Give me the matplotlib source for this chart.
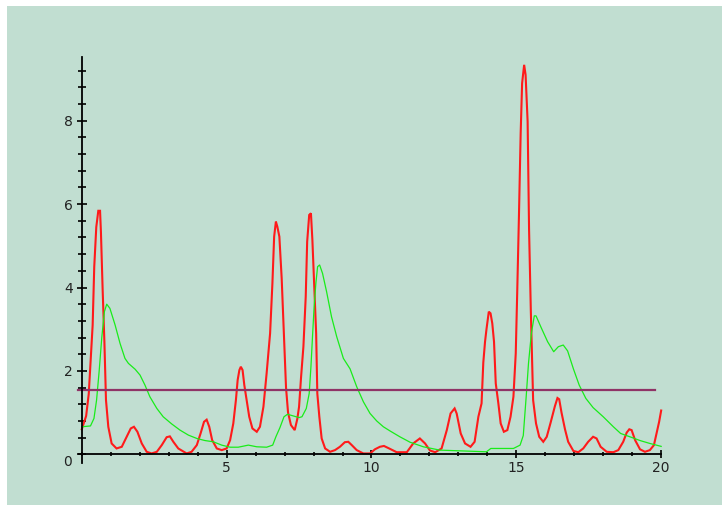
import matplotlib
matplotlib.use("Agg")
import matplotlib.pyplot as plt
import numpy as np

# red response curve, read point by point
red_x = [0.0, 0.15, 0.24, 0.30, 0.375, 0.43, 0.50, 0.57, 0.63, 0.66, 0.72, 0.78, 0.835, 0.915,
         1.03, 1.2, 1.38, 1.55, 1.69, 1.8, 1.92, 2.07, 2.24, 2.41, 2.59, 2.76, 2.93, 3.04,
         3.16, 3.33, 3.62, 3.79, 3.97, 4.1, 4.22, 4.31, 4.4, 4.5, 4.66, 4.83, 5.0, 5.12,
         5.23, 5.32, 5.38, 5.44, 5.49, 5.55, 5.61, 5.69, 5.78, 5.89, 6.04, 6.15, 6.27, 6.38,
         6.5, 6.58, 6.64, 6.70, 6.75, 6.82, 6.9, 7.0, 7.05, 7.12, 7.22, 7.35, 7.44, 7.5,
         7.57, 7.65, 7.73, 7.78, 7.85, 7.91, 7.96, 8.02, 8.09, 8.13, 8.2, 8.28, 8.4, 8.57,
         8.74, 8.91, 9.08, 9.2, 9.32, 9.49, 9.72, 9.95, 10.12, 10.29, 10.43, 10.61, 10.87,
         11.22, 11.44, 11.67, 11.85, 12.02, 12.2, 12.42, 12.6, 12.73, 12.87, 12.94, 13.08,
         13.23, 13.42, 13.56, 13.69, 13.8, 13.86, 13.92, 13.97, 14.05, 14.11, 14.17, 14.23,
         14.29, 14.38, 14.46, 14.57, 14.69, 14.8, 14.9, 14.98, 15.03, 15.09, 15.15, 15.2,
         15.27, 15.32, 15.39, 15.44, 15.5, 15.58, 15.68, 15.79, 15.93, 16.05, 16.18, 16.33,
         16.42, 16.48, 16.56, 16.68, 16.79, 16.97, 17.14, 17.31, 17.48, 17.65, 17.77, 17.91,
         18.12, 18.35, 18.52, 18.69, 18.81, 18.9, 18.98, 19.1, 19.27, 19.44, 19.61, 19.75,
         19.84, 19.93, 20.0]
red_y = [0.60, 0.92, 1.45, 2.2, 3.1, 4.5, 5.45, 5.84, 5.84, 5.34, 3.94, 2.7, 1.3, 0.66,
         0.26, 0.14, 0.18, 0.42, 0.62, 0.66, 0.54, 0.26, 0.06, 0.02, 0.06, 0.22, 0.41, 0.43,
         0.3, 0.14, 0.02, 0.06, 0.22, 0.5, 0.78, 0.83, 0.66, 0.34, 0.14, 0.1, 0.14, 0.34,
         0.74, 1.3, 1.78, 2.02, 2.1, 2.02, 1.66, 1.3, 0.9, 0.62, 0.54, 0.66, 1.14, 1.94,
         2.9, 4.1, 5.22, 5.58, 5.46, 5.22, 4.22, 2.5, 1.6, 1.0, 0.7, 0.58, 0.85, 1.14,
         1.86, 2.58, 3.78, 5.1, 5.74, 5.78, 5.14, 4.1, 2.9, 1.46, 0.9, 0.38, 0.14, 0.06,
         0.1, 0.18, 0.29, 0.3, 0.22, 0.1, 0.02, 0.02, 0.12, 0.18, 0.2, 0.14, 0.05,
         0.05, 0.26, 0.38, 0.26, 0.09, 0.05, 0.14, 0.58, 0.98, 1.1, 0.98, 0.5,
         0.26, 0.18, 0.3, 0.9, 1.22, 2.2, 2.7, 3.0, 3.42, 3.38, 3.14, 2.7,
         1.7, 1.22, 0.74, 0.54, 0.58, 0.9, 1.38, 2.42, 3.86, 5.7, 7.7, 8.9,
         9.34, 9.1, 7.98, 5.38, 3.46, 1.3, 0.74, 0.42, 0.3, 0.42, 0.75, 1.15,
         1.35, 1.32, 1.0, 0.6, 0.3, 0.08, 0.05, 0.14, 0.3, 0.42, 0.38, 0.18,
         0.06, 0.05, 0.1, 0.3, 0.52, 0.6, 0.58, 0.34, 0.12, 0.06, 0.1, 0.22,
         0.5, 0.78, 1.05]

# green smoothed curve
green_x = [0.0, 0.3, 0.42, 0.51, 0.6, 0.69, 0.78, 0.86, 0.97, 1.15, 1.32, 1.49, 1.61, 1.84,
           2.01, 2.18, 2.35, 2.59, 2.81, 3.1, 3.39, 3.68, 3.97, 4.25, 4.54, 4.83, 5.12, 5.4,
           5.75, 6.04, 6.38, 6.59, 6.7, 6.84, 6.98, 7.1, 7.3, 7.5, 7.6, 7.75, 7.85, 7.91,
           7.97, 8.02, 8.08, 8.14, 8.21, 8.31, 8.45, 8.62, 8.8, 9.03, 9.26, 9.49, 9.72, 9.95,
           10.18, 10.41, 10.64, 10.98, 11.33, 11.79, 12.36, 13.17, 13.97, 14.12, 14.9, 15.13,
           15.24, 15.34, 15.42, 15.52, 15.62, 15.68, 15.85, 16.08, 16.29, 16.45, 16.62, 16.77,
           16.97, 17.17, 17.4, 17.65, 18.0, 18.35, 18.6, 18.92, 19.27, 19.61, 20.0]
green_y = [0.66, 0.68, 0.86, 1.3, 2.0, 2.8, 3.42, 3.6, 3.5, 3.1, 2.66, 2.3, 2.18, 2.04,
           1.9, 1.66, 1.38, 1.1, 0.9, 0.73, 0.58, 0.46, 0.38, 0.33, 0.3, 0.22, 0.17, 0.17,
           0.22, 0.18, 0.17, 0.22, 0.42, 0.64, 0.9, 0.96, 0.92, 0.88, 0.9, 1.1, 1.46, 2.1,
           2.9, 3.54, 4.1, 4.5, 4.54, 4.34, 3.9, 3.3, 2.82, 2.3, 2.05, 1.62, 1.26, 0.98,
           0.8, 0.66, 0.56, 0.42, 0.29, 0.18, 0.1, 0.08, 0.06, 0.14, 0.14, 0.22,
           0.45, 1.38, 2.18, 2.9, 3.32, 3.32, 3.05, 2.7, 2.46, 2.58, 2.62, 2.48,
           2.05, 1.66, 1.34, 1.12, 0.9, 0.66, 0.5, 0.42, 0.33, 0.26, 0.19]

# horizontal threshold level and its extent
level = 1.54
level_span = [-0.12, 19.8]

x_labels = [5, 10, 15, 20]
y_labels = [2, 4, 6, 8]

bg = '#c1ded1'

fig = plt.figure(figsize=(7.22, 5.05), dpi=100, facecolor='white')
ax = fig.add_axes([7 / 722, 0, 715 / 722, 499 / 505])
ax.set_facecolor(bg)
ax.set_xlim(-2.582, 22.10)
ax.set_ylim(-1.216, 10.751)

ax.plot(red_x, red_y, color='#ff1a1a', lw=1.5, solid_joinstyle='miter', zorder=3)
ax.plot(green_x, green_y, color='#19ec19', lw=0.9, zorder=4)
ax.plot(level_span, [level, level], color='#8f3366', lw=1.6, zorder=5)

for s in ['top', 'right']:
    ax.spines[s].set_visible(False)
ax.spines['left'].set_position(('data', 0))
ax.spines['bottom'].set_position(('data', 0))
ax.spines['left'].set_bounds(-0.2, 9.52)
ax.spines['bottom'].set_bounds(-0.12, 20)
for s in ['left', 'bottom']:
    ax.spines[s].set_linewidth(1.3)
    ax.spines[s].set_color('black')
    ax.spines[s].set_zorder(6)

ax.set_xticks(x_labels)
ax.set_xticks(np.arange(0, 21, 1), minor=True)
ax.set_yticks(y_labels)
ax.set_yticks(np.arange(0, 9.3, 0.4), minor=True)

ax.tick_params(axis='x', which='major', direction='inout', length=6, width=1.2,
               pad=2, labelsize=10, labelcolor='#222222')
ax.tick_params(axis='x', which='minor', direction='inout', length=3, width=1.2)
ax.tick_params(axis='y', which='major', direction='inout', length=7, width=1.2,
               pad=3, labelsize=10, labelcolor='#222222')
ax.tick_params(axis='y', which='minor', direction='inout', length=5.5, width=1.2)

ax.text(-0.48, -0.18, '0', ha='center', va='center', fontsize=10, color='#222222')

fig.savefig('out.png', dpi=100, facecolor='white')
